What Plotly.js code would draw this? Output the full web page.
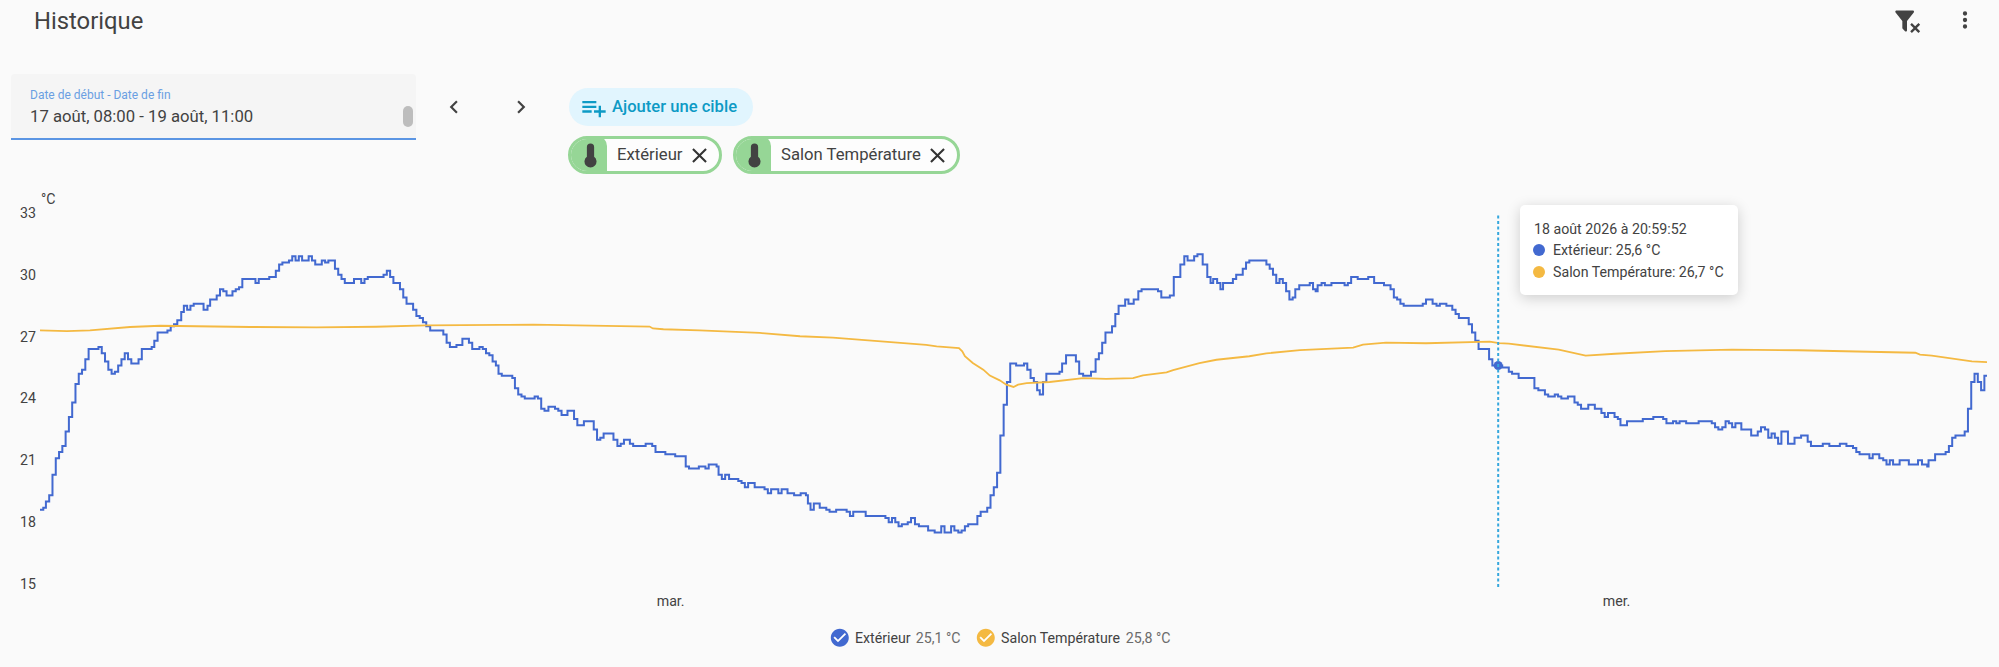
<!DOCTYPE html>
<html lang="fr">
<head>
<meta charset="utf-8">
<title>Historique</title>
<script src="https://cdn.plot.ly/plotly-3.0.1.min.js"></script>
<style>
html,body{margin:0;padding:0;background:#fafafa;width:1999px;height:667px;overflow:hidden;font-family:Roboto,sans-serif;color:#424242}
#chart{position:absolute;left:0;top:0;width:1999px;height:667px}
.a{position:absolute;white-space:nowrap}
.t{position:absolute;white-space:nowrap;transform:translateY(-50%);line-height:1.2}
svg{position:absolute;display:block}
</style>
</head>
<body>
<div id="chart"></div>
<div id="ui"></div>
<script>
// ---- Data ----
const chartStart = '2026-08-17T08:00:00Z';
const seriesNames = ['Extérieur', 'Salon Température'];
const seriesColors = ['#4269d0', '#f4b942'];
const legendValues = ['25,1 °C', '25,8 °C'];
const tooltipTitle = '18 août 2026 à 20:59:52';
const tooltipValues = ['25,6 °C', '26,7 °C'];
const unit = '°C';
const yTicks = [15, 18, 21, 24, 27, 30, 33];
const dayTickMinutes = [960, 2400];
const dayTickLabels = ['mar.', 'mer.'];
const hoverMinute = 2219.87;
const hoverValue = 25.6;
const rangeEndMinute = 2964;

// minutes after chartStart / temperature
const extMinutes = [0,5,9,14,19,24,29,34,39,44,49,54,59,64,69,74,89,94,99,104,109,114,119,124,129,134,139,150,155,170,174,179,194,199,204,209,215,219,224,229,234,249,255,259,269,274,279,284,293,298,303,308,328,333,349,359,364,369,379,384,389,394,399,409,414,419,429,434,439,449,454,459,464,478,489,494,499,523,528,533,538,548,553,558,568,573,578,583,588,594,614,619,624,634,643,653,658,669,674,679,684,689,694,698,
703,719,723,728,733,738,753,758,763,768,774,784,789,794,803,813,818,828,843,848,853,858,873,879,884,889,898,903,922,932,937,952,967,983,988,1003,1013,1018,1023,1030,1033,1038,1043,1049,1063,1068,1073,1078,1088,1103,1108,1113,1124,1129,1138,1148,1158,1166,1169,1173,1178,1187,1197,1202,1212,1228,1233,1238,1257,1287,1292,1297,1302,1307,1312,1321,1326,1332,1338,1352,1362,1372,1377,1387,1392,1398,1403,1408,1413,1427,1432,1442,1447,1452,1457,
1462,1467,1472,1477,1486,1498,1503,1508,1513,1518,1522,1527,1532,1552,1556,1562,1577,1582,1588,1600,1607,1612,1617,1622,1632,1637,1642,1652,1657,1665,1672,1677,1702,1707,1720,1726,1736,1742,1747,1757,1762,1770,1777,1782,1786,1792,1797,1801,1816,1821,1831,1836,1841,1867,1872,1877,1882,1887,1892,1897,1902,1907,1911,1917,1933,1938,1942,1945,1951,1956,1966,1986,1991,1996,2006,2022,2031,2046,2056,2061,2066,2071,2076,2105,2110,2120,2126,2131,2141,2150,2155,2160,2175,2180,2185,2190,2206,2211,2217,
2221,2226,2236,2241,2251,2275,2281,2291,2296,2306,2311,2316,2326,2336,2341,2346,2357,2367,2377,2382,2387,2397,2402,2406,2416,2440,2456,2471,2476,2486,2491,2496,2506,2525,2545,2550,2555,2561,2566,2571,2576,2581,2590,2605,2615,2620,2626,2631,2636,2641,2646,2651,2661,2671,2681,2691,2696,2714,2724,2740,2750,2760,2765,2770,2785,2790,2800,2806,2811,2816,2821,2831,2845,2859,2865,2873,2875,2885,2901,2906,2911,2916,2930,2935,2940,2945,2950,2955,2960,2964];
const extValues = [18.6,18.7,19.0,19.3,20.3,21.1,21.4,21.7,22.4,23.1,23.8,24.7,25.2,25.4,25.9,26.4,26.5,26.2,25.8,25.4,25.2,25.3,25.6,25.9,26.2,25.9,25.7,25.9,26.4,26.5,26.8,27.2,27.3,27.5,27.6,27.8,28.2,28.5,28.3,28.5,28.6,28.3,28.5,28.8,29.0,29.3,29.2,29.0,29.2,29.3,29.4,29.8,29.6,29.8,29.9,30.2,30.5,30.6,30.7,30.9,30.7,30.9,30.7,30.9,30.7,30.5,30.7,30.6,30.7,30.3,30.0,29.8,29.6,29.8,29.6,29.8,29.9,30.0,30.2,29.9,29.6,29.3,28.9,28.6,28.3,28.0,27.9,27.7,27.5,27.3,27.1,26.7,26.5,26.6,26.9,26.7,26.4,26.5,26.4,26.2,26.1,25.8,25.6,25.2,
25.1,25.0,24.5,24.2,24.1,24.0,24.1,24.0,23.5,23.4,23.6,23.5,23.4,23.2,23.4,23.0,22.7,22.9,22.5,22.0,22.1,22.3,22.0,21.7,21.8,22.0,21.8,21.7,21.8,21.7,21.4,21.3,21.2,20.7,20.6,20.7,20.6,20.8,20.8,20.7,20.3,20.1,20.3,20.1,20.0,19.9,19.7,19.9,19.7,19.6,19.4,19.6,19.4,19.6,19.4,19.3,19.4,19.3,18.9,18.6,18.9,18.7,18.6,18.5,18.6,18.5,18.3,18.5,18.3,18.2,18.0,18.2,18.0,17.8,17.9,18.0,18.2,17.9,17.8,17.6,17.5,17.8,17.5,17.8,17.6,17.5,17.6,17.8,17.9,18.3,18.5,18.7,19.3,19.7,20.4,
22.2,23.7,24.8,25.7,25.6,25.7,25.4,25.0,24.8,24.4,24.2,24.8,25.2,25.3,25.7,26.1,25.8,25.2,25.1,25.3,25.9,26.2,26.7,27.2,27.5,28.1,28.5,28.8,28.6,28.8,29.2,29.3,29.2,28.9,29.0,29.9,30.5,30.9,30.7,30.9,31.0,30.5,29.9,29.6,29.8,29.6,29.3,29.6,29.8,30.0,30.3,30.6,30.7,30.5,30.3,30.0,29.6,29.8,29.6,29.2,28.8,28.9,29.3,29.5,29.6,29.3,29.2,29.5,29.6,29.5,29.6,29.5,29.6,29.9,29.8,29.9,29.6,29.5,29.3,28.9,28.8,28.6,28.5,28.6,28.8,28.6,28.5,28.6,28.5,28.3,28.1,27.9,27.6,27.2,26.8,26.4,25.9,25.6,25.5,
25.6,25.5,25.3,25.2,25.0,24.5,24.4,24.2,24.1,24.2,24.1,24.0,24.1,23.8,23.7,23.5,23.7,23.5,23.3,23.1,23.3,23.1,23.0,22.7,22.9,23.0,23.1,23.0,22.8,22.9,22.8,22.9,22.8,22.9,22.8,22.6,22.5,22.6,22.9,22.8,22.6,22.8,22.5,22.2,22.4,22.6,22.5,22.1,22.3,22.1,21.8,22.4,21.8,22.1,22.2,21.9,21.7,21.8,21.7,21.8,21.7,21.6,21.4,21.3,21.1,21.3,21.1,21.0,20.8,21.0,20.8,21.0,20.8,21.0,20.8,20.7,21.0,21.3,21.4,21.7,22.1,22.2,22.4,23.5,24.8,25.2,24.8,24.4,25.1,25.1];

const salonMinutes = [0,41,76,107,137,183,243,320,421,512,588,649,700,751,822,928,933,949,1004,1096,1157,1207,1349,1365,1399,1404,1408,1420,1436,1446,1461,1471,1482,1489,1502,1537,1588,1623,1664,1679,1715,1725,1765,1791,1841,1867,1918,1999,2014,2049,2110,2186,2207,2221,2236,2312,2353,2398,2474,2576,2677,2855,2862,2880,2941,2964];
const salonValues = [27.31,27.27,27.31,27.39,27.47,27.53,27.50,27.47,27.45,27.48,27.55,27.58,27.57,27.58,27.55,27.49,27.40,27.36,27.31,27.18,27.02,26.95,26.60,26.53,26.45,26.29,26.05,25.72,25.40,25.11,24.88,24.67,24.56,24.67,24.75,24.80,24.99,24.95,24.99,25.12,25.27,25.38,25.72,25.88,26.05,26.19,26.35,26.47,26.61,26.71,26.68,26.74,26.76,26.69,26.66,26.37,26.08,26.17,26.30,26.37,26.34,26.22,26.13,26.08,25.80,25.76];

// ---- Chart ----
const t0 = Date.parse(chartStart);
const toDate = m => new Date(t0 + m * 60000).toISOString();
const tickFont = {family: 'Roboto, sans-serif', size: 14.2, color: '#424242'};

Plotly.newPlot('chart', [
  {type: 'scatter', mode: 'lines', x: extMinutes.map(toDate), y: extValues, name: seriesNames[0],
   line: {color: seriesColors[0], width: 2, shape: 'hv'}, hoverinfo: 'skip'},
  {type: 'scatter', mode: 'lines', x: salonMinutes.map(toDate), y: salonValues, name: seriesNames[1],
   line: {color: seriesColors[1], width: 1.8}, hoverinfo: 'skip'},
  {type: 'scatter', mode: 'markers', x: [toDate(hoverMinute)], y: [hoverValue], name: seriesNames[0],
   marker: {color: seriesColors[0], size: 9}, hoverinfo: 'skip', cliponaxis: false}
], {
  width: 1999, height: 667,
  margin: {l: 40, r: 12, t: 213, b: 83, pad: 0},
  paper_bgcolor: 'rgba(0,0,0,0)', plot_bgcolor: 'rgba(0,0,0,0)',
  showlegend: false,
  xaxis: {type: 'date', range: [toDate(0), toDate(rangeEndMinute)], showgrid: false, zeroline: false, showline: false,
          tickmode: 'array', tickvals: dayTickMinutes.map(toDate), ticktext: dayTickLabels, ticks: '', ticklen: 0,
          ticklabelstandoff: 7, tickfont: tickFont},
  yaxis: {range: [15, 33], showgrid: false, zeroline: false, showline: false, tickmode: 'array',
          tickvals: yTicks, ticktext: yTicks.map(String), ticks: '', tickfont: tickFont, ticklabelstandoff: 3},
  shapes: [{type: 'line', xref: 'x', yref: 'paper', x0: toDate(hoverMinute), x1: toDate(hoverMinute), y0: -0.008, y1: 0.995,
            line: {color: '#35a7dd', width: 2, dash: '3px,2.5px'}, layer: 'above'}],
  annotations: [{xref: 'paper', yref: 'paper', xanchor: 'left', yanchor: 'middle', showarrow: false,
                 text: unit, font: tickFont, y: 1.0378, x: -0.0005}]
}, {staticPlot: true, displayModeBar: false});

// ---- Page furniture around the chart ----
const P = {
  close: 'M19,6.41L17.59,5L12,10.59L6.41,5L5,6.41L10.59,12L5,17.59L6.41,19L12,13.41L17.59,19L19,17.59L13.41,12L19,6.41Z',
  left: 'M15.41,16.58L10.83,12L15.41,7.41L14,6L8,12L14,18L15.41,16.58Z',
  right: 'M8.59,16.58L13.17,12L8.59,7.41L10,6L16,12L10,18L8.59,16.58Z',
  plus: 'M2,16H10V14H2M18,14V10H16V14H12V16H16V20H18V16H22V14M14,6H2V8H14M14,10H2V12H14V10Z',
  therm: 'M15 13V5A3 3 0 0 0 9 5V13A5 5 0 1 0 15 13Z',
  filter: 'M14.76,20.83L17.6,18L14.76,15.17L16.17,13.76L19,16.57L21.83,13.76L23.24,15.17L20.43,18L23.24,20.83L21.83,22.24L19,19.4L16.17,22.24L14.76,20.83M12,12V19.88C12.04,20.18 11.94,20.5 11.71,20.71C11.32,21.1 10.69,21.1 10.3,20.71L8.29,18.7C8.06,18.47 7.96,18.16 8,17.87V12H7.97L2.21,4.62C1.87,4.19 1.95,3.56 2.38,3.22C2.57,3.08 2.78,3 3,3V3H17V3C17.22,3 17.43,3.08 17.62,3.22C18.05,3.56 18.13,4.19 17.79,4.62L12.03,12H12Z',
  dots: 'M12,16A2,2 0 0,1 14,18A2,2 0 0,1 12,20A2,2 0 0,1 10,18A2,2 0 0,1 12,16M12,10A2,2 0 0,1 14,12A2,2 0 0,1 12,14A2,2 0 0,1 10,12A2,2 0 0,1 12,10M12,4A2,2 0 0,1 14,6A2,2 0 0,1 12,8A2,2 0 0,1 10,6A2,2 0 0,1 12,4Z',
  check: 'M12 2C6.5 2 2 6.5 2 12S6.5 22 12 22 22 17.5 22 12 17.5 2 12 2M10 17L5 12L6.41 10.59L10 14.17L17.59 6.58L19 8L10 17Z'
};
const ui = document.getElementById('ui');
let html = '';
const icon = (d, cx, cy, size, color) =>
  `<svg style="left:${cx - size / 2}px;top:${cy - size / 2}px" width="${size}" height="${size}" viewBox="0 0 24 24"><path d="${d}" fill="${color}"/></svg>`;
const text = (s, x, cy, size, color, extra = '') =>
  `<div class="t" style="left:${x}px;top:${cy}px;font-size:${size}px;color:${color};${extra}">${s}</div>`;
const box = (x, y, w, h, css) =>
  `<div class="a" style="left:${x}px;top:${y}px;width:${w}px;height:${h}px;box-sizing:border-box;${css}"></div>`;

html += text('Historique', 34, 21, 23.8, '#424242');
html += icon(P.filter, 1907, 21, 28, '#424242');
html += icon(P.dots, 1965, 20, 26, '#424242');

html += box(11, 74, 405, 66, 'background:#f5f5f5;border-radius:4px 4px 0 0;border-bottom:2.5px solid #5b95e3');
html += text('Date de début - Date de fin', 30, 95, 12, '#6a9fe2');
html += text('17 août, 08:00 - 19 août, 11:00', 30, 116.5, 16.7, '#424242');
html += box(403, 106, 10, 21, 'background:#bdbdbd;border-radius:5px');
html += icon(P.left, 454, 107, 26, '#424242');
html += icon(P.right, 521, 107, 26, '#424242');

html += box(569, 88, 184, 38, 'background:#e1f5fe;border-radius:19px');
html += icon(P.plus, 594, 108, 28, '#0d9ac5');
html += text('Ajouter une cible', 612, 107, 16.6, '#0d9ac5', 'font-weight:500');

const chips = [
  {x: 568, w: 154, fill: 39, name: seriesNames[0], tx: 617, ix: 590, cx: 699},
  {x: 733, w: 227, fill: 38, name: seriesNames[1], tx: 781, ix: 754, cx: 937}
];
chips.forEach(c => {
  html += `<div class="a" style="left:${c.x}px;top:136px;width:${c.w}px;height:37.5px;box-sizing:border-box;border:3px solid #96d696;border-radius:19px;background:#fdfdfd;overflow:hidden"><div class="a" style="left:-3px;top:-3px;width:${c.fill}px;height:44px;background:#96d696;border-radius:0 10px 10px 0"></div></div>`;
  html += icon(P.therm, c.ix, 155, 29, '#424242');
  html += text(c.name, c.tx, 155, 16.7, '#424242');
  html += icon(P.close, c.cx, 155, 25, '#333');
});

// legend
const legend = [
  {c: 839.5, tx: 855, vx: 915.7},
  {c: 985.7, tx: 1001, vx: 1125.7}
];
legend.forEach((l, i) => {
  html += `<div class="a" style="left:${l.c - 5}px;top:633px;width:10px;height:10px;background:#fff"></div>`;
  html += icon(P.check, l.c, 638, 21.6, seriesColors[i]);
  html += text(seriesNames[i], l.tx, 639, 14.2, '#424242');
  html += text(legendValues[i], l.vx, 639, 14.2, '#6b6b6b');
});

// tooltip
html += box(1520, 205, 218, 90, 'background:#fff;border-radius:5px;box-shadow:0 3px 14px rgba(0,0,0,.18)');
html += text(tooltipTitle, 1534, 229.5, 14.2, '#424242');
[250, 272].forEach((cy, i) => {
  html += `<div class="a" style="left:${1533}px;top:${cy - 6}px;width:12px;height:12px;border-radius:50%;background:${seriesColors[i]}"></div>`;
  html += text(`${seriesNames[i]}: ${tooltipValues[i]}`, 1553, cy + 0.5, 14.2, '#424242');
});
ui.innerHTML = html;
</script>
</body>
</html>
